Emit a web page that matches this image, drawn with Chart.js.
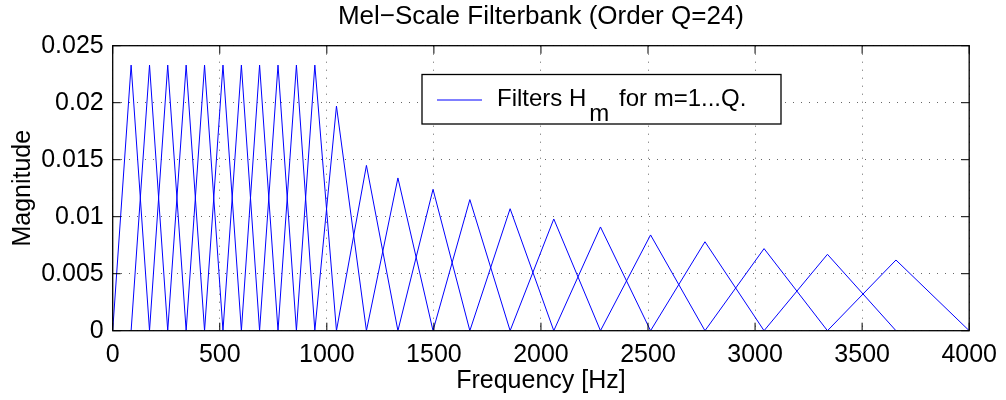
<!DOCTYPE html>
<html>
<head>
<meta charset="utf-8">
<script src="https://cdn.jsdelivr.net/npm/chart.js@4/dist/chart.umd.min.js"></script>
<style>
  html, body { margin: 0; padding: 0; background: #fff; }
  #wrap { width: 1006px; height: 400px; }
</style>
</head>
<body>
<div id="wrap"><canvas id="mel-chart" width="1006" height="400"></canvas></div>
<script>
// filter centre frequencies [Hz] (m = 1..24)
const centers = [86, 172, 257, 343, 429, 515, 601, 686, 772, 858, 944,
  1045, 1185, 1332, 1496, 1668, 1856, 2060, 2278, 2512, 2766, 3042, 3338, 3658];
// peak magnitude of each filter
const heights = [0.0233, 0.0233, 0.0233, 0.0233, 0.0233, 0.0233, 0.0233, 0.0233, 0.0233, 0.0233, 0.0233,
  0.0197, 0.0145, 0.0134, 0.0124, 0.0115, 0.0107, 0.0098, 0.0091, 0.0084, 0.0078, 0.0072, 0.0067, 0.0062];
// outer band edges [Hz]
const bandEdges = [0, 4000];

const xTicks = [0, 500, 1000, 1500, 2000, 2500, 3000, 3500, 4000];
const xTickLabels = ['0', '500', '1000', '1500', '2000', '2500', '3000', '3500', '4000'];
const yTicks = [0, 0.005, 0.01, 0.015, 0.02, 0.025];
const yTickLabels = ['0', '0.005', '0.01', '0.015', '0.02', '0.025'];

const FONT = '"Liberation Sans", Arial, Helvetica, sans-serif';

// each filter is a triangle from the previous centre to the next one
const points = [bandEdges[0], ...centers, bandEdges[1]];
const datasets = centers.map((c, i) => ({
  data: [
    { x: points[i], y: 0 },
    { x: c, y: heights[i] },
    { x: points[i + 2], y: 0 }
  ],
  borderColor: '#0000ff',
  borderWidth: 1,
  pointRadius: 0,
  tension: 0,
  fill: false
}));

// matlab style box, inward ticks, title over the axes and the legend
const framePlugin = {
  id: 'frame',
  afterDraw(chart) {
    const { ctx, chartArea: a, scales: { x, y } } = chart;
    ctx.save();
    ctx.strokeStyle = '#000';
    ctx.lineWidth = 1.3;
    ctx.strokeRect(a.left, a.top, a.right - a.left, a.bottom - a.top);

    const tl = 8;
    ctx.beginPath();
    xTicks.forEach(v => {
      const px = x.getPixelForValue(v);
      ctx.moveTo(px, a.bottom); ctx.lineTo(px, a.bottom - tl);
      ctx.moveTo(px, a.top); ctx.lineTo(px, a.top + tl);
    });
    yTicks.forEach(v => {
      const py = y.getPixelForValue(v);
      ctx.moveTo(a.left, py); ctx.lineTo(a.left + tl, py);
      ctx.moveTo(a.right, py); ctx.lineTo(a.right - tl, py);
    });
    ctx.lineWidth = 1;
    ctx.stroke();

    // title, centred on the axes like matlab does
    ctx.fillStyle = '#000';
    ctx.font = '26px ' + FONT;
    ctx.textAlign = 'center';
    ctx.textBaseline = 'middle';
    ctx.fillText('Mel\u2212Scale Filterbank (Order Q=24)', (a.left + a.right) / 2, 16.5);

    // legend box
    const lx = 422, ly = 74.5, lw = 359, lh = 49.5;
    ctx.fillStyle = '#fff';
    ctx.fillRect(lx, ly, lw, lh);
    ctx.strokeStyle = '#000';
    ctx.lineWidth = 1.3;
    ctx.strokeRect(lx, ly, lw, lh);

    ctx.strokeStyle = '#0000ff';
    ctx.lineWidth = 1;
    ctx.beginPath();
    ctx.moveTo(lx + 15, ly + 25.5);
    ctx.lineTo(lx + 60, ly + 25.5);
    ctx.stroke();

    ctx.fillStyle = '#000';
    ctx.textBaseline = 'alphabetic';
    ctx.textAlign = 'left';
    ctx.font = '24px ' + FONT;
    const t1 = 'Filters H';
    ctx.fillText(t1, lx + 75, ly + 31);
    const sx = lx + 75 + ctx.measureText(t1).width + 3;
    ctx.fillText('m', sx, ly + 46);
    ctx.fillText('for m=1...Q.', lx + 197, ly + 31);
    ctx.restore();
  }
};

new Chart(document.querySelector('#mel-chart').getContext('2d'), {
  type: 'line',
  data: { datasets: datasets },
  options: {
    responsive: false,
    animation: false,
    devicePixelRatio: 1,
    layout: { padding: { left: 0, right: 35.7, top: 45.7, bottom: 0 } },
    plugins: {
      legend: { display: false },
      tooltip: { enabled: false },
      title: { display: false }
    },
    scales: {
      x: {
        type: 'linear',
        min: 0,
        max: 4000,
        afterBuildTicks: s => { s.ticks = xTicks.map(v => ({ value: v })); },
        afterFit: s => { s.height = 69.3; },
        ticks: {
          color: '#000',
          font: { family: FONT, size: 25 },
          padding: 9,
          maxRotation: 0,
          autoSkip: false,
          callback: (v, i) => xTickLabels[i]
        },
        grid: { color: 'rgba(0,0,0,0.6)', lineWidth: 1, drawTicks: false },
        border: { display: false, dash: [1, 7] },
        title: {
          display: true,
          text: 'Frequency [Hz]',
          color: '#000',
          font: { family: FONT, size: 25 },
          padding: { top: 0, bottom: 4 }
        }
      },
      y: {
        type: 'linear',
        min: 0,
        max: 0.025,
        afterBuildTicks: s => { s.ticks = yTicks.map(v => ({ value: v })); },
        afterFit: s => { s.width = 112.7; },
        ticks: {
          color: '#000',
          font: { family: FONT, size: 25 },
          padding: 9,
          autoSkip: false,
          callback: (v, i) => yTickLabels[i]
        },
        grid: { color: 'rgba(0,0,0,0.6)', lineWidth: 1, drawTicks: false },
        border: { display: false, dash: [1, 7] },
        title: {
          display: true,
          text: 'Magnitude',
          color: '#000',
          font: { family: FONT, size: 25 },
          padding: { top: 8, bottom: 0 }
        }
      }
    }
  },
  plugins: [framePlugin]
});
</script>
</body>
</html>
